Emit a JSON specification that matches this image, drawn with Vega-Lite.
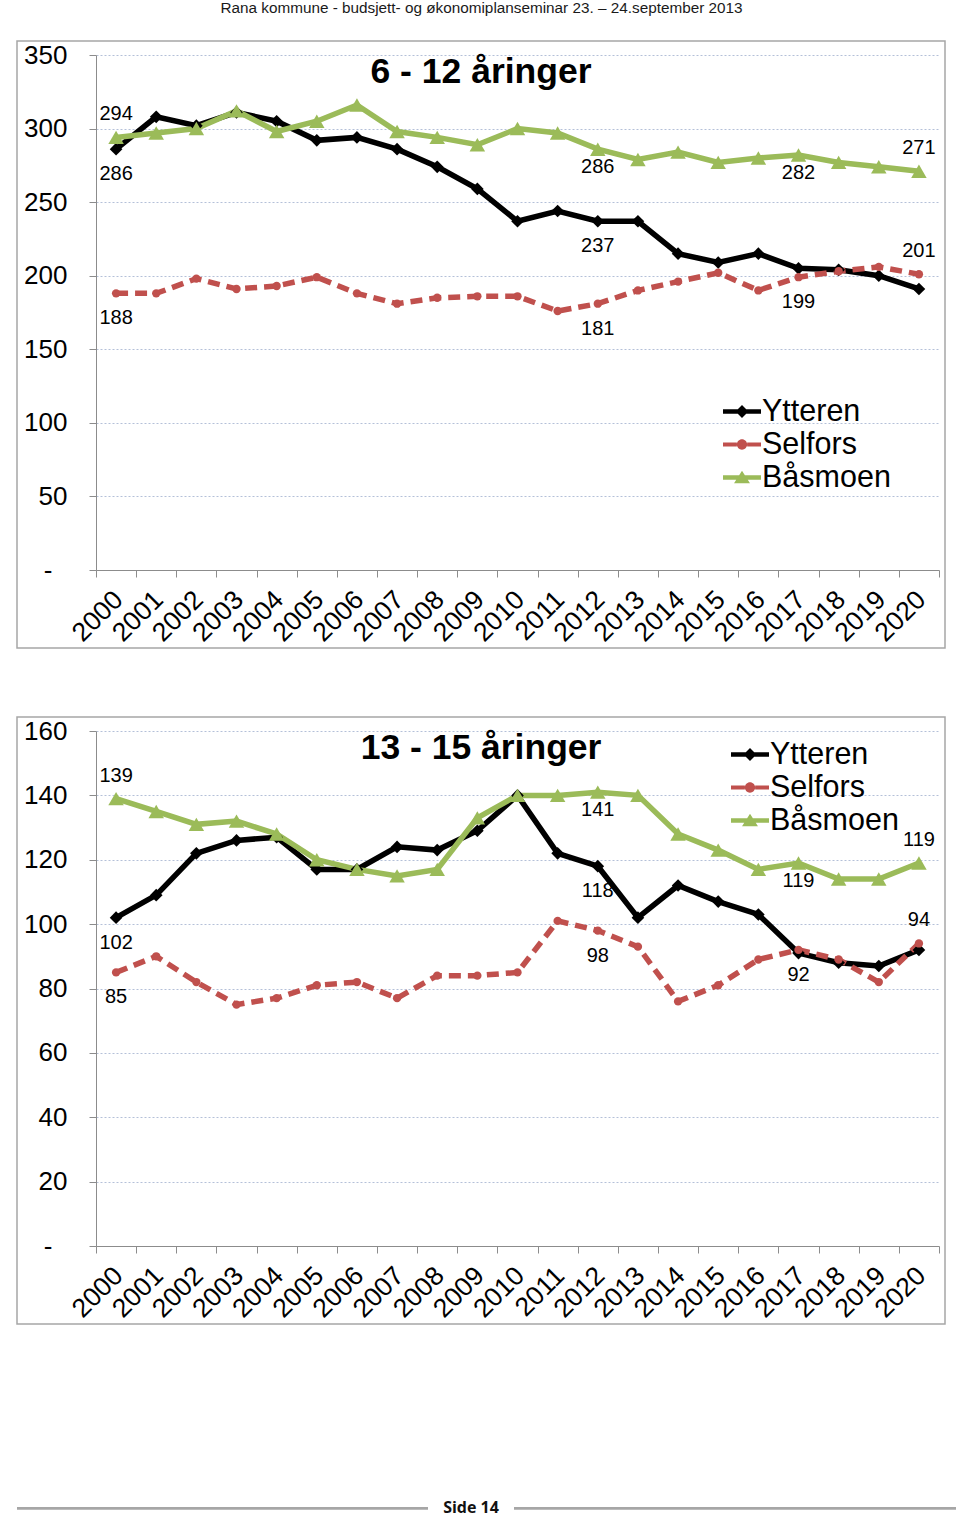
{
  "$schema": "https://vega.github.io/schema/vega-lite/v6.json",
  "background": "white",
  "padding": {"left": 16, "top": 0, "right": 5, "bottom": 8},
  "autosize": {"type": "pad"},
  "title": {"text": "Rana kommune - budsjett- og økonomiplanseminar 23. – 24.september 2013", "fontSize": 15.3, "font": "Liberation Sans", "fontWeight": "normal", "color": "#1a1a1a", "anchor": "middle", "offset": 24, "dx": -5},
  "datasets": {
    "kids": [
      {"year": "2000", "series": "Ytteren", "value": 286}, {"year": "2001", "series": "Ytteren", "value": 308}, {"year": "2002", "series": "Ytteren", "value": 302}, {"year": "2003", "series": "Ytteren", "value": 311}, {"year": "2004", "series": "Ytteren", "value": 305}, {"year": "2005", "series": "Ytteren", "value": 292}, {"year": "2006", "series": "Ytteren", "value": 294}, {"year": "2007", "series": "Ytteren", "value": 286}, {"year": "2008", "series": "Ytteren", "value": 274}, {"year": "2009", "series": "Ytteren", "value": 259}, {"year": "2010", "series": "Ytteren", "value": 237}, {"year": "2011", "series": "Ytteren", "value": 244}, {"year": "2012", "series": "Ytteren", "value": 237}, {"year": "2013", "series": "Ytteren", "value": 237}, {"year": "2014", "series": "Ytteren", "value": 215}, {"year": "2015", "series": "Ytteren", "value": 209}, {"year": "2016", "series": "Ytteren", "value": 215}, {"year": "2017", "series": "Ytteren", "value": 205}, {"year": "2018", "series": "Ytteren", "value": 204}, {"year": "2019", "series": "Ytteren", "value": 200}, {"year": "2020", "series": "Ytteren", "value": 191},
      {"year": "2000", "series": "Selfors", "value": 188}, {"year": "2001", "series": "Selfors", "value": 188}, {"year": "2002", "series": "Selfors", "value": 198}, {"year": "2003", "series": "Selfors", "value": 191}, {"year": "2004", "series": "Selfors", "value": 193}, {"year": "2005", "series": "Selfors", "value": 199}, {"year": "2006", "series": "Selfors", "value": 188}, {"year": "2007", "series": "Selfors", "value": 181}, {"year": "2008", "series": "Selfors", "value": 185}, {"year": "2009", "series": "Selfors", "value": 186}, {"year": "2010", "series": "Selfors", "value": 186}, {"year": "2011", "series": "Selfors", "value": 176}, {"year": "2012", "series": "Selfors", "value": 181}, {"year": "2013", "series": "Selfors", "value": 190}, {"year": "2014", "series": "Selfors", "value": 196}, {"year": "2015", "series": "Selfors", "value": 202}, {"year": "2016", "series": "Selfors", "value": 190}, {"year": "2017", "series": "Selfors", "value": 199}, {"year": "2018", "series": "Selfors", "value": 203}, {"year": "2019", "series": "Selfors", "value": 206}, {"year": "2020", "series": "Selfors", "value": 201},
      {"year": "2000", "series": "Båsmoen", "value": 294}, {"year": "2001", "series": "Båsmoen", "value": 297}, {"year": "2002", "series": "Båsmoen", "value": 300}, {"year": "2003", "series": "Båsmoen", "value": 312}, {"year": "2004", "series": "Båsmoen", "value": 298}, {"year": "2005", "series": "Båsmoen", "value": 305}, {"year": "2006", "series": "Båsmoen", "value": 316}, {"year": "2007", "series": "Båsmoen", "value": 298}, {"year": "2008", "series": "Båsmoen", "value": 294}, {"year": "2009", "series": "Båsmoen", "value": 289}, {"year": "2010", "series": "Båsmoen", "value": 300}, {"year": "2011", "series": "Båsmoen", "value": 297}, {"year": "2012", "series": "Båsmoen", "value": 286}, {"year": "2013", "series": "Båsmoen", "value": 279}, {"year": "2014", "series": "Båsmoen", "value": 284}, {"year": "2015", "series": "Båsmoen", "value": 277}, {"year": "2016", "series": "Båsmoen", "value": 280}, {"year": "2017", "series": "Båsmoen", "value": 282}, {"year": "2018", "series": "Båsmoen", "value": 277}, {"year": "2019", "series": "Båsmoen", "value": 274}, {"year": "2020", "series": "Båsmoen", "value": 271}
    ],
    "teens": [
      {"year": "2000", "series": "Ytteren", "value": 102}, {"year": "2001", "series": "Ytteren", "value": 109}, {"year": "2002", "series": "Ytteren", "value": 122}, {"year": "2003", "series": "Ytteren", "value": 126}, {"year": "2004", "series": "Ytteren", "value": 127}, {"year": "2005", "series": "Ytteren", "value": 117}, {"year": "2006", "series": "Ytteren", "value": 117}, {"year": "2007", "series": "Ytteren", "value": 124}, {"year": "2008", "series": "Ytteren", "value": 123}, {"year": "2009", "series": "Ytteren", "value": 129}, {"year": "2010", "series": "Ytteren", "value": 140}, {"year": "2011", "series": "Ytteren", "value": 122}, {"year": "2012", "series": "Ytteren", "value": 118}, {"year": "2013", "series": "Ytteren", "value": 102}, {"year": "2014", "series": "Ytteren", "value": 112}, {"year": "2015", "series": "Ytteren", "value": 107}, {"year": "2016", "series": "Ytteren", "value": 103}, {"year": "2017", "series": "Ytteren", "value": 91}, {"year": "2018", "series": "Ytteren", "value": 88}, {"year": "2019", "series": "Ytteren", "value": 87}, {"year": "2020", "series": "Ytteren", "value": 92},
      {"year": "2000", "series": "Selfors", "value": 85}, {"year": "2001", "series": "Selfors", "value": 90}, {"year": "2002", "series": "Selfors", "value": 82}, {"year": "2003", "series": "Selfors", "value": 75}, {"year": "2004", "series": "Selfors", "value": 77}, {"year": "2005", "series": "Selfors", "value": 81}, {"year": "2006", "series": "Selfors", "value": 82}, {"year": "2007", "series": "Selfors", "value": 77}, {"year": "2008", "series": "Selfors", "value": 84}, {"year": "2009", "series": "Selfors", "value": 84}, {"year": "2010", "series": "Selfors", "value": 85}, {"year": "2011", "series": "Selfors", "value": 101}, {"year": "2012", "series": "Selfors", "value": 98}, {"year": "2013", "series": "Selfors", "value": 93}, {"year": "2014", "series": "Selfors", "value": 76}, {"year": "2015", "series": "Selfors", "value": 81}, {"year": "2016", "series": "Selfors", "value": 89}, {"year": "2017", "series": "Selfors", "value": 92}, {"year": "2018", "series": "Selfors", "value": 89}, {"year": "2019", "series": "Selfors", "value": 82}, {"year": "2020", "series": "Selfors", "value": 94},
      {"year": "2000", "series": "Båsmoen", "value": 139}, {"year": "2001", "series": "Båsmoen", "value": 135}, {"year": "2002", "series": "Båsmoen", "value": 131}, {"year": "2003", "series": "Båsmoen", "value": 132}, {"year": "2004", "series": "Båsmoen", "value": 128}, {"year": "2005", "series": "Båsmoen", "value": 120}, {"year": "2006", "series": "Båsmoen", "value": 117}, {"year": "2007", "series": "Båsmoen", "value": 115}, {"year": "2008", "series": "Båsmoen", "value": 117}, {"year": "2009", "series": "Båsmoen", "value": 133}, {"year": "2010", "series": "Båsmoen", "value": 140}, {"year": "2011", "series": "Båsmoen", "value": 140}, {"year": "2012", "series": "Båsmoen", "value": 141}, {"year": "2013", "series": "Båsmoen", "value": 140}, {"year": "2014", "series": "Båsmoen", "value": 128}, {"year": "2015", "series": "Båsmoen", "value": 123}, {"year": "2016", "series": "Båsmoen", "value": 117}, {"year": "2017", "series": "Båsmoen", "value": 119}, {"year": "2018", "series": "Båsmoen", "value": 114}, {"year": "2019", "series": "Båsmoen", "value": 114}, {"year": "2020", "series": "Båsmoen", "value": 119}
    ],
    "footer": [{"page": "Side 14"}],
    "blank": [{"page": ""}]
  },
  "vconcat": [
    {
      "vconcat": [
        {
          "width": 928, "height": 607,
          "title": {"text": "6 - 12 åringer", "fontSize": 35.5, "font": "Liberation Sans", "fontWeight": "bold", "color": "black", "anchor": "middle", "frame": "group", "baseline": "alphabetic", "offset": -77},
          "data": {"name": "kids"},
          "encoding": {
            "x": {"field": "year", "type": "ordinal", "title": null,
              "scale": {"type": "band", "range": [79, 922], "paddingInner": 0, "paddingOuter": 0},
              "axis": {"offset": -78, "tickBand": "extent", "labelAngle": -45, "labelFontSize": 26.5, "labelFont": "Liberation Sans", "labelColor": "black", "labelPadding": 9, "labelOffset": -7, "tickSize": 7, "tickColor": "#8C8C8C", "domainColor": "#8C8C8C", "grid": false}},
            "y": {"field": "value", "type": "quantitative", "title": null,
              "scale": {"domain": [0, 350], "range": [529, 14], "nice": false},
              "axis": {"offset": -79, "values": [0, 50, 100, 150, 200, 250, 300, 350], "labelFontSize": 26, "labelFont": "Liberation Sans", "labelColor": "black", "labelPadding": {"condition": {"test": "datum.value == 0", "value": 37}, "value": 22}, "tickSize": 7, "tickColor": "#8C8C8C", "domainColor": "#8C8C8C", "grid": true, "gridColor": "#B4C0D8", "gridDash": [2, 2], "gridWidth": 1, "labelExpr": "datum.value == 0 ? '-' : datum.label"}},
            "color": {"field": "series", "type": "nominal",
              "scale": {"domain": ["Ytteren", "Selfors", "Båsmoen"], "range": ["#000000", "#C0504D", "#9BBB59"]},
              "legend": {"orient": "none", "legendX": 706, "legendY": 354, "title": null, "labelFontSize": 30.5, "labelFont": "Liberation Sans", "labelColor": "black", "symbolSize": 1444, "symbolStrokeWidth": 0, "clipHeight": 33, "rowPadding": 0, "labelOffset": 1, "padding": 0,
                "encode": {"symbols": {"update": {
                  "shape": {"signal": "datum.value == 'Ytteren' ? 'M-1,-0.12L1,-0.12L1,0.12L-1,0.12Z M0,-0.34L0.34,0L0,0.34L-0.34,0Z' : datum.value == 'Selfors' ? 'M-1,-0.11L-0.27,-0.11L-0.27,0.11L-1,0.11Z M0.27,-0.11L1,-0.11L1,0.11L0.27,0.11Z M-0.27,0A0.27,0.27 0 1,1 0.27,0A0.27,0.27 0 1,1 -0.27,0Z' : 'M-1,-0.12L1,-0.12L1,0.12L-1,0.12Z M0,-0.36L0.42,0.3L-0.42,0.3Z'"},
                  "size": {"value": 1444},
                  "strokeWidth": {"value": 0},
                  "opacity": {"value": 1}
                }}}}}
          },
          "layer": [
            {"transform": [{"filter": "datum.series != 'Selfors'"}],
             "mark": {"type": "line", "strokeWidth": 5.5}},
            {"transform": [{"filter": "datum.series == 'Selfors'"}],
             "mark": {"type": "line", "strokeWidth": 5.5, "strokeDash": [12, 7]}},
            {"transform": [{"filter": "datum.series == 'Ytteren'"}],
             "mark": {"type": "point", "filled": true, "opacity": 1, "strokeWidth": 0, "shape": "diamond", "size": 160}},
            {"transform": [{"filter": "datum.series == 'Selfors'"}],
             "mark": {"type": "point", "filled": true, "opacity": 1, "strokeWidth": 0, "shape": "circle", "size": 70}},
            {"transform": [{"filter": "datum.series == 'Båsmoen'"}],
             "mark": {"type": "point", "filled": true, "opacity": 1, "strokeWidth": 0, "shape": "triangle-up", "size": 240}},
            {"transform": [{"filter": "(datum.year == '2020' && datum.series != 'Ytteren') || (datum.year == '2000' && datum.series == 'Båsmoen')"}],
             "mark": {"type": "text", "fontSize": 20, "font": "Liberation Sans", "baseline": "middle", "dy": -23},
             "encoding": {"text": {"field": "value", "type": "quantitative"}, "color": {"value": "black"}}},
            {"transform": [{"filter": "datum.series == 'Båsmoen' && (datum.year == '2012' || datum.year == '2017')"}],
             "mark": {"type": "text", "fontSize": 20, "font": "Liberation Sans", "baseline": "middle", "dy": 18},
             "encoding": {"text": {"field": "value", "type": "quantitative"}, "color": {"value": "black"}}},
            {"transform": [{"filter": "(datum.series == 'Ytteren' && (datum.year == '2000' || datum.year == '2012')) || (datum.series == 'Selfors' && (datum.year == '2000' || datum.year == '2012' || datum.year == '2017'))"}],
             "mark": {"type": "text", "fontSize": 20, "font": "Liberation Sans", "baseline": "middle", "dy": 25},
             "encoding": {"text": {"field": "value", "type": "quantitative"}, "color": {"value": "black"}}}
          ]
        },
        {
          "width": 928, "height": 607,
          "title": {"text": "13 - 15 åringer", "fontSize": 35.5, "font": "Liberation Sans", "fontWeight": "bold", "color": "black", "anchor": "middle", "frame": "group", "baseline": "alphabetic", "offset": -77},
          "data": {"name": "teens"},
          "encoding": {
            "x": {"field": "year", "type": "ordinal", "title": null,
              "scale": {"type": "band", "range": [79, 922], "paddingInner": 0, "paddingOuter": 0},
              "axis": {"offset": -78, "tickBand": "extent", "labelAngle": -45, "labelFontSize": 26.5, "labelFont": "Liberation Sans", "labelColor": "black", "labelPadding": 9, "labelOffset": -7, "tickSize": 7, "tickColor": "#8C8C8C", "domainColor": "#8C8C8C", "grid": false}},
            "y": {"field": "value", "type": "quantitative", "title": null,
              "scale": {"domain": [0, 160], "range": [529, 14], "nice": false},
              "axis": {"offset": -79, "values": [0, 20, 40, 60, 80, 100, 120, 140, 160], "labelFontSize": 26, "labelFont": "Liberation Sans", "labelColor": "black", "labelPadding": {"condition": {"test": "datum.value == 0", "value": 37}, "value": 22}, "tickSize": 7, "tickColor": "#8C8C8C", "domainColor": "#8C8C8C", "grid": true, "gridColor": "#B4C0D8", "gridDash": [2, 2], "gridWidth": 1, "labelExpr": "datum.value == 0 ? '-' : datum.label"}},
            "color": {"field": "series", "type": "nominal",
              "scale": {"domain": ["Ytteren", "Selfors", "Båsmoen"], "range": ["#000000", "#C0504D", "#9BBB59"]},
              "legend": {"orient": "none", "legendX": 714, "legendY": 21, "title": null, "labelFontSize": 30.5, "labelFont": "Liberation Sans", "labelColor": "black", "symbolSize": 1444, "symbolStrokeWidth": 0, "clipHeight": 33, "rowPadding": 0, "labelOffset": 1, "padding": 0,
                "encode": {"symbols": {"update": {
                  "shape": {"signal": "datum.value == 'Ytteren' ? 'M-1,-0.12L1,-0.12L1,0.12L-1,0.12Z M0,-0.34L0.34,0L0,0.34L-0.34,0Z' : datum.value == 'Selfors' ? 'M-1,-0.11L-0.27,-0.11L-0.27,0.11L-1,0.11Z M0.27,-0.11L1,-0.11L1,0.11L0.27,0.11Z M-0.27,0A0.27,0.27 0 1,1 0.27,0A0.27,0.27 0 1,1 -0.27,0Z' : 'M-1,-0.12L1,-0.12L1,0.12L-1,0.12Z M0,-0.36L0.42,0.3L-0.42,0.3Z'"},
                  "size": {"value": 1444},
                  "strokeWidth": {"value": 0},
                  "opacity": {"value": 1}
                }}}}}
          },
          "layer": [
            {"transform": [{"filter": "datum.series != 'Selfors'"}],
             "mark": {"type": "line", "strokeWidth": 5.5}},
            {"transform": [{"filter": "datum.series == 'Selfors'"}],
             "mark": {"type": "line", "strokeWidth": 5.5, "strokeDash": [12, 7]}},
            {"transform": [{"filter": "datum.series == 'Ytteren'"}],
             "mark": {"type": "point", "filled": true, "opacity": 1, "strokeWidth": 0, "shape": "diamond", "size": 160}},
            {"transform": [{"filter": "datum.series == 'Selfors'"}],
             "mark": {"type": "point", "filled": true, "opacity": 1, "strokeWidth": 0, "shape": "circle", "size": 70}},
            {"transform": [{"filter": "datum.series == 'Båsmoen'"}],
             "mark": {"type": "point", "filled": true, "opacity": 1, "strokeWidth": 0, "shape": "triangle-up", "size": 240}},
            {"transform": [{"filter": "(datum.year == '2020' && datum.series != 'Ytteren') || (datum.year == '2000' && datum.series == 'Båsmoen')"}],
             "mark": {"type": "text", "fontSize": 20, "font": "Liberation Sans", "baseline": "middle", "dy": -23},
             "encoding": {"text": {"field": "value", "type": "quantitative"}, "color": {"value": "black"}}},
            {"transform": [{"filter": "datum.series == 'Båsmoen' && (datum.year == '2012' || datum.year == '2017')"}],
             "mark": {"type": "text", "fontSize": 20, "font": "Liberation Sans", "baseline": "middle", "dy": 18},
             "encoding": {"text": {"field": "value", "type": "quantitative"}, "color": {"value": "black"}}},
            {"transform": [{"filter": "(datum.series == 'Ytteren' && (datum.year == '2000' || datum.year == '2012')) || (datum.series == 'Selfors' && (datum.year == '2000' || datum.year == '2012' || datum.year == '2017'))"}],
             "mark": {"type": "text", "fontSize": 20, "font": "Liberation Sans", "baseline": "middle", "dy": 25},
             "encoding": {"text": {"field": "value", "type": "quantitative"}, "color": {"value": "black"}}}
          ]
        }
      ],
      "spacing": 67,
      "resolve": {"scale": {"color": "independent"}, "legend": {"color": "independent"}}
    },
    {
      "hconcat": [
        {"width": 411, "height": 2, "view": {"stroke": null, "fill": "#A6A6A6"}, "data": {"name": "blank"},
         "mark": {"type": "rule", "color": "#A6A6A6", "strokeWidth": 1.5},
         "encoding": {"y": {"datum": 0, "type": "quantitative", "scale": {"domain": [0, 1]}, "axis": null}}},
        {"width": 86, "height": 2, "view": {"stroke": null}, "data": {"name": "footer"}, "mark": {"type": "text", "fontWeight": "bold", "fontSize": 16, "font": "Open Sans", "baseline": "middle", "color": "#111111"}, "encoding": {"text": {"field": "page", "type": "nominal"}}},
        {"width": 442, "height": 2, "view": {"stroke": null, "fill": "#A6A6A6"}, "data": {"name": "blank"},
         "mark": {"type": "rule", "color": "#A6A6A6", "strokeWidth": 1.5},
         "encoding": {"y": {"datum": 0, "type": "quantitative", "scale": {"domain": [0, 1]}, "axis": null}}}
      ],
      "spacing": 0,
      "bounds": "flush",
      "resolve": {"scale": {"y": "independent"}}
    }
  ],
  "spacing": 175,
  "config": {
    "view": {"stroke": "#A6A6A6", "strokeWidth": 1.5}
  }
}
